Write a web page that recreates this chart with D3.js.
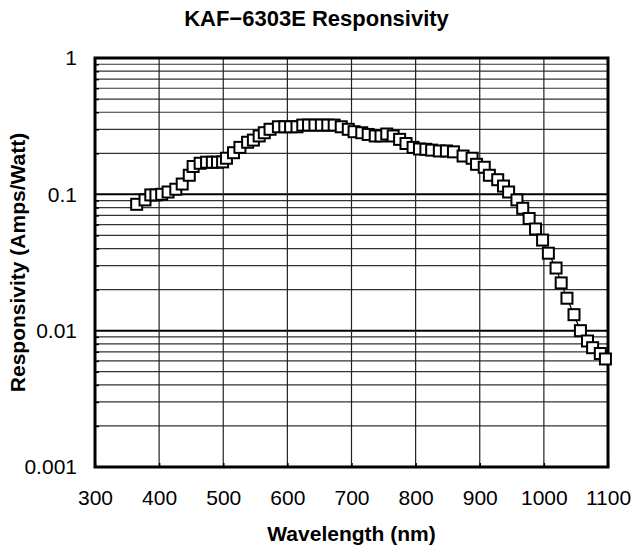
<!DOCTYPE html>
<html>
<head>
<meta charset="utf-8">
<script src="https://cdn.jsdelivr.net/npm/d3@7"></script>
<style>
  body { margin: 0; background: #fff; }
  text { font-family: "Liberation Sans", Arial, Helvetica, sans-serif; }
</style>
</head>
<body>
<div id="chart"></div>
<script>
// wavelength (nm) and responsivity (A/W)
const wavelength = [365, 378, 387, 395, 404, 414, 426, 436, 447, 453, 464, 474, 483, 491, 499,
  505, 516, 526, 538, 547, 556, 564, 573, 586, 596, 605, 615, 624, 633, 643, 653, 663, 673,
  684, 695, 704, 716, 726, 737, 746, 755, 765, 775, 785, 796, 806, 816, 825, 837, 848, 859,
  874, 888, 895, 907, 915, 928, 937, 945, 958, 967, 977, 987, 998, 1007, 1019, 1027, 1036,
  1047, 1057, 1068, 1076, 1088, 1096];
const responsivity = [0.0845, 0.091, 0.099, 0.099, 0.100, 0.104, 0.109, 0.119, 0.138, 0.160,
  0.169, 0.172, 0.172, 0.172, 0.173, 0.184, 0.202, 0.221, 0.241, 0.250, 0.268, 0.283, 0.300,
  0.313, 0.313, 0.313, 0.313, 0.322, 0.322, 0.322, 0.322, 0.322, 0.322, 0.313, 0.300, 0.288,
  0.283, 0.275, 0.268, 0.268, 0.277, 0.268, 0.253, 0.236, 0.221, 0.215, 0.214, 0.211, 0.208,
  0.208, 0.205, 0.191, 0.184, 0.166, 0.158, 0.138, 0.128, 0.115, 0.104, 0.091, 0.079, 0.0665,
  0.0557, 0.0462, 0.0370, 0.0288, 0.0224, 0.0173, 0.0131, 0.0100, 0.0084, 0.0075, 0.0068, 0.0062];
const xTicks = [300, 400, 500, 600, 700, 800, 900, 1000, 1100];
const yTicks = [0.001, 0.01, 0.1, 1];
const yTickLabels = ['0.001', '0.01', '0.1', '1'];

const data = wavelength.map((w, i) => ({ w, r: responsivity[i] }));

const width = 633, height = 547;
const margin = { top: 58, right: 25, bottom: 80, left: 95 };

const svg = d3.select('#chart').append('svg')
  .attr('width', width).attr('height', height);

const x = d3.scaleLinear().domain([300, 1100]).range([margin.left, width - margin.right]);
const y = d3.scaleLog().domain([0.001, 1]).range([height - margin.bottom, margin.top]);

// minor horizontal grid (2..9 of each decade)
const minor = [];
[0.001, 0.01, 0.1].forEach(d => {
  for (let k = 2; k <= 9; k++) minor.push(k * d);
});

svg.append('g')
  .selectAll('line')
  .data(minor)
  .join('line')
  .attr('x1', x(300)).attr('x2', x(1100))
  .attr('y1', d => y(d)).attr('y2', d => y(d))
  .attr('stroke', '#333').attr('stroke-width', 1.2);

svg.append('g')
  .selectAll('line')
  .data([0.01, 0.1])
  .join('line')
  .attr('x1', x(300)).attr('x2', x(1100))
  .attr('y1', d => y(d)).attr('y2', d => y(d))
  .attr('stroke', '#000').attr('stroke-width', 2);

svg.append('g')
  .selectAll('line')
  .data(xTicks.slice(1, -1))
  .join('line')
  .attr('x1', d => x(d)).attr('x2', d => x(d))
  .attr('y1', y(1)).attr('y2', y(0.001))
  .attr('stroke', '#222').attr('stroke-width', 1.2);

// axes
const yAxis = svg.append('g')
  .attr('transform', `translate(${margin.left},0)`)
  .call(d3.axisLeft(y).tickValues(yTicks)
    .tickFormat((d, i) => yTickLabels[i]).tickSize(0).tickPadding(18));
yAxis.select('.domain').remove();
yAxis.selectAll('text').attr('font-size', 21).attr('fill', '#000');

const xAxis = svg.append('g')
  .attr('transform', `translate(0,${height - margin.bottom})`)
  .call(d3.axisBottom(x).tickValues(xTicks).tickFormat(d3.format('d'))
    .tickSize(0).tickPadding(23));
xAxis.select('.domain').remove();
xAxis.selectAll('text').attr('font-size', 21).attr('fill', '#000');

// small inward ticks
svg.append('g')
  .attr('transform', `translate(${margin.left},0)`)
  .call(d3.axisRight(y).tickValues(minor).tickFormat('').tickSize(4))
  .call(g => g.select('.domain').remove())
  .selectAll('line').attr('stroke-width', 1.5);
svg.append('g')
  .attr('transform', `translate(0,${height - margin.bottom})`)
  .call(d3.axisTop(x).tickValues(xTicks).tickFormat('').tickSize(4))
  .call(g => g.select('.domain').remove())
  .selectAll('line').attr('stroke-width', 1.5);

// frame
svg.append('rect')
  .attr('x', x(300)).attr('y', y(1))
  .attr('width', x(1100) - x(300)).attr('height', y(0.001) - y(1))
  .attr('fill', 'none').attr('stroke', '#000').attr('stroke-width', 3);

// series
svg.append('path')
  .datum(data)
  .attr('fill', 'none').attr('stroke', '#000').attr('stroke-width', 1.2)
  .attr('d', d3.line().x(d => x(d.w)).y(d => y(d.r)));

const s = 11;
svg.append('g')
  .selectAll('rect')
  .data(data)
  .join('rect')
  .attr('x', d => x(d.w) - s / 2).attr('y', d => y(d.r) - s / 2)
  .attr('width', s).attr('height', s)
  .attr('fill', '#fff').attr('stroke', '#000').attr('stroke-width', 2);

// titles
svg.append('text')
  .attr('x', width / 2).attr('y', 26)
  .attr('text-anchor', 'middle').attr('font-size', 22).attr('font-weight', 'bold')
  .text('KAF\u22126303E Responsivity');

svg.append('text')
  .attr('x', (x(300) + x(1100)) / 2).attr('y', 541)
  .attr('text-anchor', 'middle').attr('font-size', 21).attr('font-weight', 'bold')
  .text('Wavelength (nm)');

svg.append('text')
  .attr('transform', `translate(25,${(y(1) + y(0.001)) / 2}) rotate(-90)`)
  .attr('text-anchor', 'middle').attr('font-size', 21).attr('font-weight', 'bold')
  .text('Responsivity (Amps/Watt)');
</script>
</body>
</html>
